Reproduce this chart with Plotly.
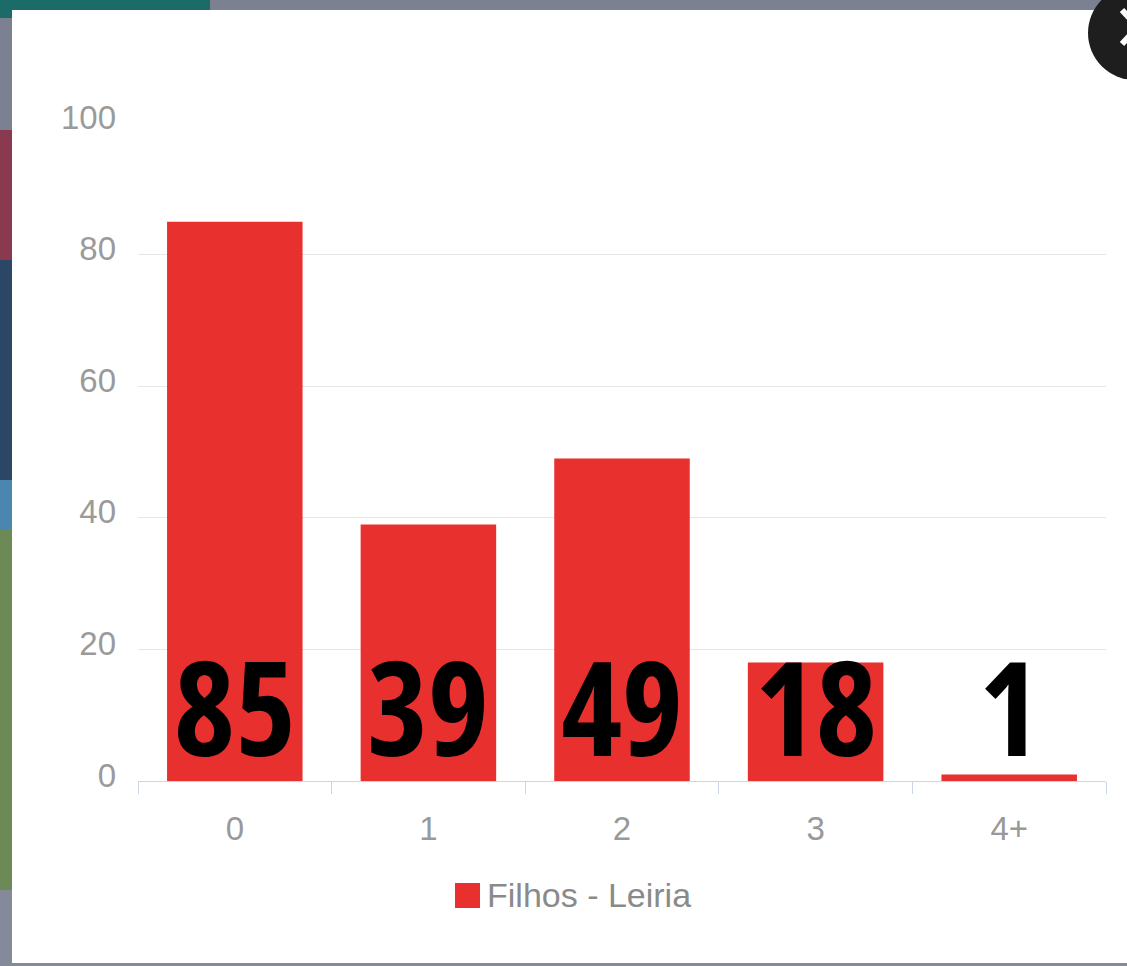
import plotly.graph_objects as go

categories = ["0", "1", "2", "3", "4+"]
values = [85, 39, 49, 18, 1]
series_name = "Filhos - Leiria"
y_ticks = [0, 20, 40, 60, 80, 100]

W, H = 1127, 966
L, R, T, B = 138, 1106, 123, 781  # plot area in pixels


def px(x):
    return (x - L) / (R - L)


def py(y):
    return (B - y) / (B - T)


bar_color = "#e8302f"

fig = go.Figure()
fig.add_trace(go.Bar(
    x=categories, y=values, name=series_name,
    marker=dict(color=bar_color, line=dict(width=0)),
    width=0.7, showlegend=False, hoverinfo="x+y",
))

annotations = []
for c, v in zip(categories, values):
    annotations.append(dict(
        x=c, y=0, xref="x", yref="y",
        text=f"<span style=\"font-family:'Open Sans';font-stretch:condensed;font-weight:700\">{v}</span>",
        showarrow=False, yanchor="bottom", yshift=-15,
        font=dict(family="Open Sans", size=130, color="#000000", weight="bold"),
    ))

# legend text
annotations.append(dict(
    x=px(488), y=py(895), xref="paper", yref="paper", text=series_name,
    showarrow=False, xanchor="left", yanchor="middle", xshift=-3,
    font=dict(family="Liberation Sans, Arial, sans-serif", size=34, color="#8a8a8a"),
))

shapes = []
# backdrop pieces (page behind modal)
backdrop = [
    (0, 0, 12, 18, "#1b6b68"),
    (0, 18, 12, 130, "#7c8191"),
    (0, 130, 12, 260, "#8a3a4e"),
    (0, 260, 12, 480, "#2c4766"),
    (0, 480, 12, 530, "#4a86b0"),
    (0, 530, 12, 890, "#6b8a55"),
    (0, 890, 12, 966, "#848a9a"),
    (0, 0, 210, 10, "#1b6b68"),
    (210, 0, 1127, 10, "#7c8191"),
    (0, 963, 1127, 966, "#848a9a"),
]
for x0, y0, x1, y1, col in backdrop:
    shapes.append(dict(type="rect", xref="paper", yref="paper",
                       x0=px(x0), x1=px(x1), y0=py(y1), y1=py(y0),
                       fillcolor=col, line=dict(width=0), layer="below"))

# white rounded modal
r = 22
mx0, my0, mx1, my1 = 12, 10, 1160, 963
path = (f"M {px(mx0 + r)},{py(my0)} L {px(mx1)},{py(my0)} L {px(mx1)},{py(my1)} "
        f"L {px(mx0 + r)},{py(my1)} Q {px(mx0)},{py(my1)} {px(mx0)},{py(my1 - r)} "
        f"L {px(mx0)},{py(my0 + r)} Q {px(mx0)},{py(my0)} {px(mx0 + r)},{py(my0)} Z")
shapes.append(dict(type="path", xref="paper", yref="paper", path=path,
                   fillcolor="#ffffff", line=dict(width=0), layer="below"))

# close button circle and partial cross
shapes.append(dict(type="circle", xref="paper", yref="paper",
                   x0=px(1088), x1=px(1182), y0=py(80), y1=py(-14),
                   fillcolor="#1e1e1e", line=dict(width=0), layer="above"))
shapes.append(dict(type="line", xref="paper", yref="paper",
                   x0=px(1122), x1=px(1135), y0=py(10), y1=py(24),
                   line=dict(color="#ffffff", width=6), layer="above"))
shapes.append(dict(type="line", xref="paper", yref="paper",
                   x0=px(1122), x1=px(1135), y0=py(44), y1=py(30),
                   line=dict(color="#ffffff", width=6), layer="above"))

# legend swatch
shapes.append(dict(type="rect", xref="paper", yref="paper",
                   x0=px(455), x1=px(480), y0=py(908), y1=py(883),
                   fillcolor=bar_color, line=dict(width=0), layer="above"))

fig.update_layout(
    width=W, height=H,
    margin=dict(l=L, r=W - R, t=T, b=H - B, pad=0),
    paper_bgcolor="#ffffff",
    plot_bgcolor="rgba(0,0,0,0)",
    bargap=0.3,
    showlegend=False,
    annotations=annotations,
    shapes=shapes,
    font=dict(family="Liberation Sans, Arial, sans-serif", color="#999999"),
)

fig.update_xaxes(
    type="category", categoryorder="array", categoryarray=categories,
    showline=True, linecolor="#ccd6eb", linewidth=1,
    ticks="outside", tickson="boundaries", ticklen=12, tickcolor="#ccd6eb",
    tickfont=dict(size=33, color="#999999"),
    ticklabelstandoff=18,
    showgrid=False, zeroline=False, range=[-0.5, 4.5],
)
fig.update_yaxes(
    range=[0, 100], tickvals=y_ticks,
    showgrid=True, gridcolor="#e6e6e6", gridwidth=1,
    zeroline=False, showline=False,
    tickfont=dict(size=33, color="#9a9a9a"),
    ticklabelstandoff=21, ticklabelshift=-6,
)

fig.write_html(
    "out.html",
    config={"displayModeBar": False},
    post_script="document.body.style.margin='0';document.body.style.overflow='hidden';",
)
